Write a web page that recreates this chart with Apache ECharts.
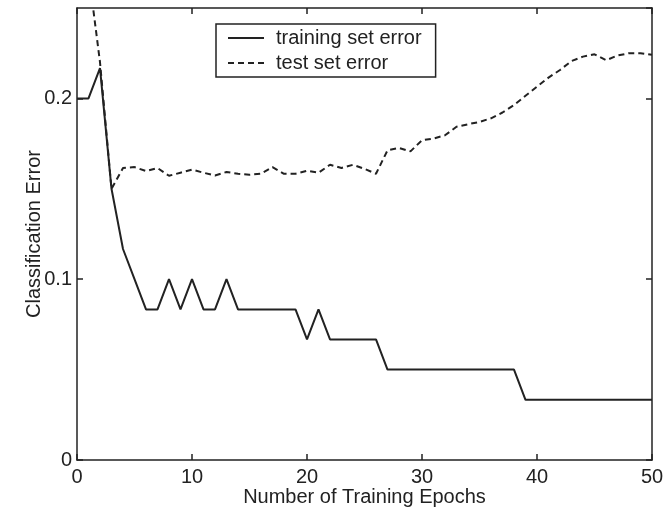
<!DOCTYPE html>
<html>
<head>
<meta charset="utf-8">
<script src="https://cdn.jsdelivr.net/npm/echarts@6/dist/echarts.min.js"></script>
<style>
  html, body { margin: 0; padding: 0; background: #fff; }
  #chart { width: 665px; height: 509px; }
</style>
</head>
<body>
<div id="chart"></div>
<script>
// classification error per epoch, epochs 0..50
var trainErr = [
  0.2, 0.2, 0.2167, 0.15, 0.1167, 0.1, 0.0833, 0.0833, 0.1, 0.0833,
  0.1, 0.0833, 0.0833, 0.1, 0.0833, 0.0833, 0.0833, 0.0833, 0.0833, 0.0833,
  0.0667, 0.0833, 0.0667, 0.0667, 0.0667, 0.0667, 0.0667, 0.05, 0.05, 0.05,
  0.05, 0.05, 0.05, 0.05, 0.05, 0.05, 0.05, 0.05, 0.05, 0.0333,
  0.0333, 0.0333, 0.0333, 0.0333, 0.0333, 0.0333, 0.0333, 0.0333, 0.0333, 0.0333,
  0.0333
];
var testErr = [
  0.32, 0.27, 0.22, 0.15, 0.1615, 0.162, 0.1598, 0.1615, 0.1572, 0.1589,
  0.1606, 0.1589, 0.1574, 0.1593, 0.1583, 0.1578, 0.1583, 0.162, 0.1583, 0.1583,
  0.160, 0.1589, 0.1633, 0.1615, 0.1633, 0.161, 0.1583, 0.1713, 0.1726, 0.1707,
  0.1769, 0.1778, 0.1796, 0.1843, 0.1857, 0.187, 0.189, 0.1922, 0.1963, 0.2015,
  0.2065, 0.2115, 0.2157, 0.2207, 0.2231, 0.2244, 0.2211, 0.2237, 0.225, 0.225,
  0.2241
];
var seriesNames = ['training set error', 'test set error'];

function toPairs(arr) {
  return arr.map(function (v, i) { return [i, v]; });
}

var ink = '#222';
var font = 'Liberation Sans, Arial, sans-serif';

var chart = echarts.init(document.getElementById('chart'), null, { renderer: 'canvas' });

var baseX = {
  type: 'value', min: 0, max: 50, interval: 10,
  splitLine: { show: false },
  axisLine: { show: true, onZero: false, lineStyle: { color: ink, width: 1.5 } },
  axisTick: { show: true, inside: true, length: 6, lineStyle: { color: ink, width: 1.5 } }
};
var baseY = {
  type: 'value', min: 0, max: 0.25, interval: 0.1,
  splitLine: { show: false },
  axisLine: { show: true, onZero: false, lineStyle: { color: ink, width: 1.5 } },
  axisTick: { show: true, inside: true, length: 6, lineStyle: { color: ink, width: 1.5 } }
};

var option = {
  animation: false,
  backgroundColor: '#fff',
  textStyle: { fontFamily: font, color: ink },
  grid: { left: 77, right: 13, top: 8, bottom: 49, outerBoundsMode: 'none' },
  legend: {
    data: seriesNames,
    orient: 'vertical',
    left: 216,
    top: 24,
    padding: [4, 14, 4, 11],
    itemGap: 5,
    itemWidth: 36,
    itemHeight: 20,
    borderColor: ink,
    borderWidth: 1.5,
    // line-only keys, no marker
    itemStyle: { color: 'transparent', borderWidth: 0, opacity: 0 },
    textStyle: { fontSize: 20, color: ink, fontFamily: font, padding: [0, 0, 0, 7] }
  },
  xAxis: [
    Object.assign({}, baseX, {
      position: 'bottom',
      name: 'Number of Training Epochs',
      nameLocation: 'middle',
      nameGap: 27,
      nameMoveOverlap: false,
      nameTextStyle: { fontSize: 20, color: ink, fontFamily: font },
      axisLabel: { fontSize: 20, color: ink, margin: 7, fontFamily: font }
    }),
    Object.assign({}, baseX, { position: 'top', axisLabel: { show: false } })
  ],
  yAxis: [
    Object.assign({}, baseY, {
      position: 'left',
      name: 'Classification Error',
      nameLocation: 'middle',
      nameGap: 33,
      nameMoveOverlap: false,
      nameTextStyle: { fontSize: 20, color: ink, fontFamily: font },
      axisLabel: { fontSize: 20, color: ink, margin: 5, showMaxLabel: false, fontFamily: font }
    }),
    Object.assign({}, baseY, { position: 'right', axisLabel: { show: false } })
  ],
  series: [
    {
      name: seriesNames[0],
      type: 'line',
      symbol: 'none',
      clip: true,
      data: toPairs(trainErr),
      lineStyle: { color: ink, width: 2, type: 'solid' },
      itemStyle: { color: ink }
    },
    {
      name: seriesNames[1],
      type: 'line',
      symbol: 'none',
      clip: true,
      data: toPairs(testErr),
      lineStyle: { color: ink, width: 2, type: [6, 4] },
      itemStyle: { color: ink }
    }
  ]
};

chart.setOption(option);
</script>
</body>
</html>
